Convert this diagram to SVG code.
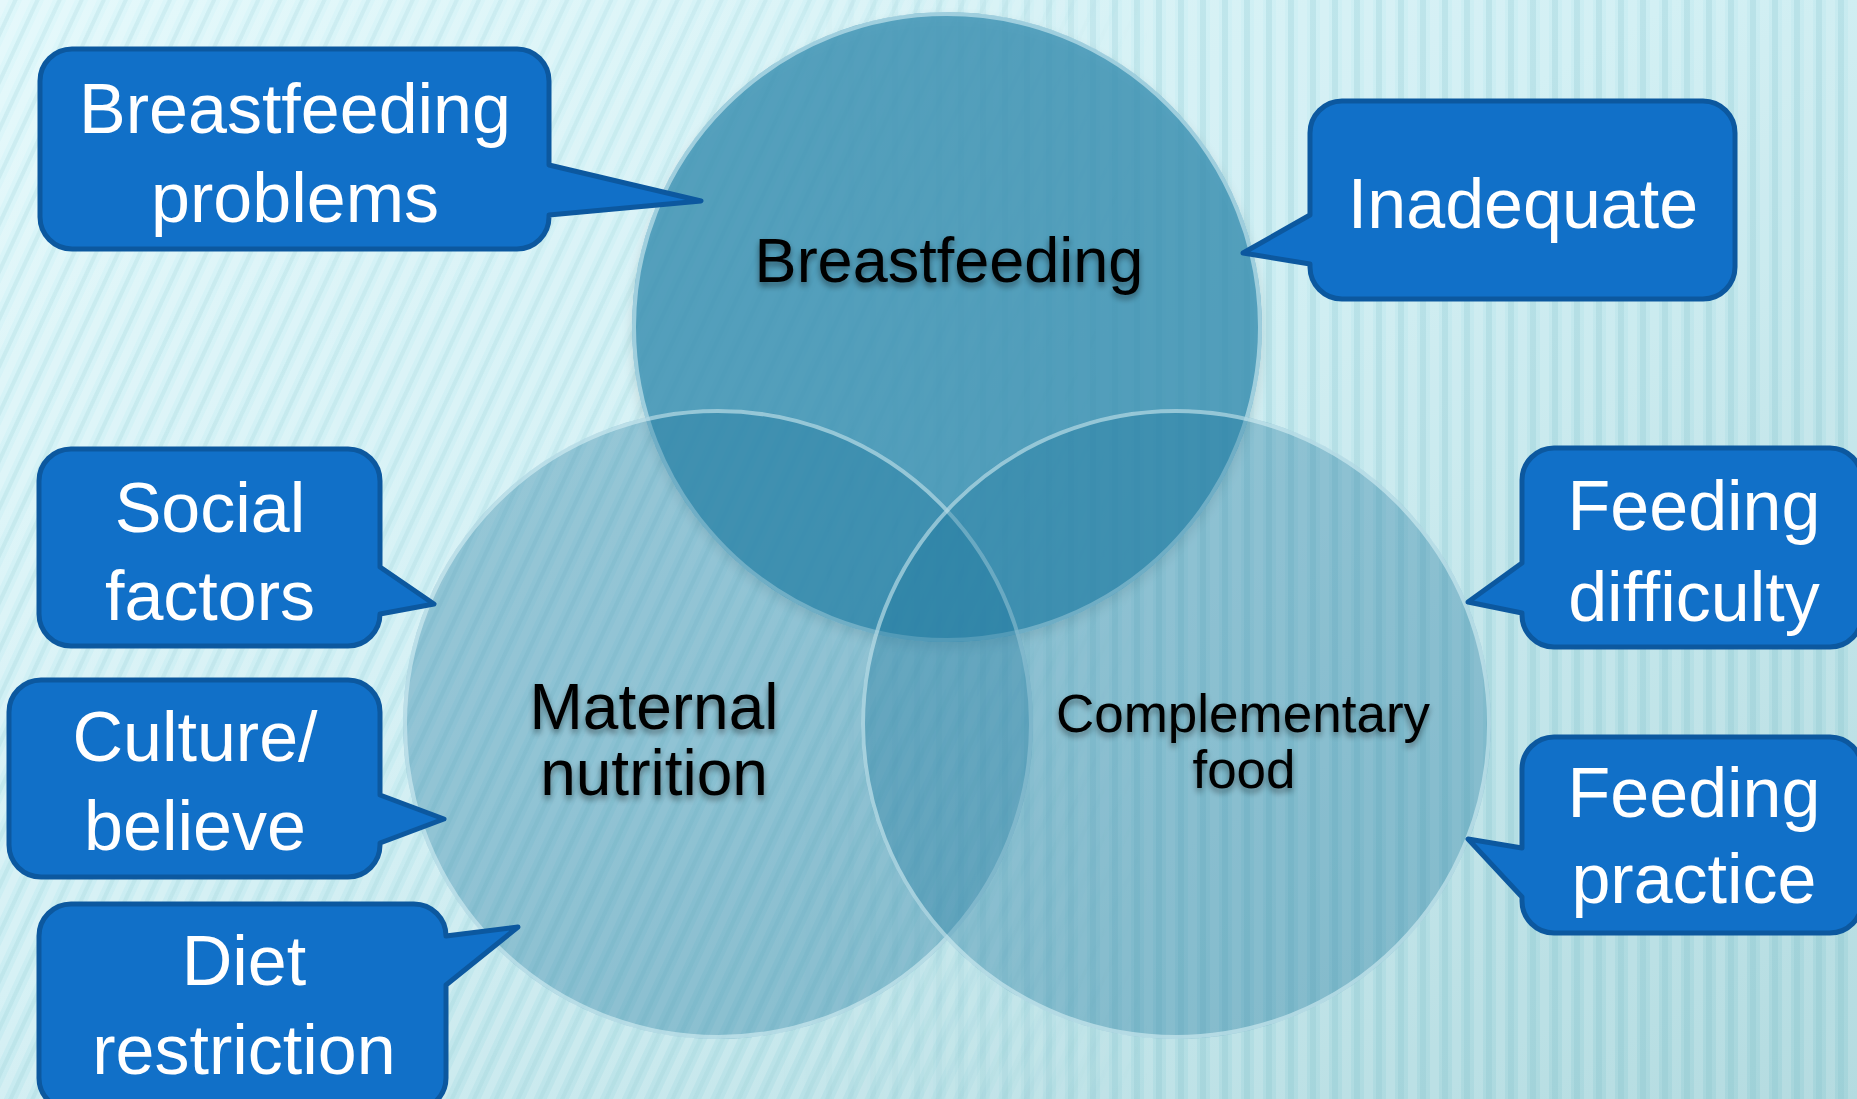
<svg xmlns="http://www.w3.org/2000/svg" width="1857" height="1099" viewBox="0 0 1857 1099">
<defs>
  <style>
    .callout { fill: #1170C8; stroke: #0C589F; stroke-width: 5; stroke-linejoin: round; }
    .ctext { font-family: "Liberation Sans", Arial, sans-serif; font-size: 70px; fill: #FFFFFF; text-anchor: middle; }
    .vtext { font-family: "Liberation Sans", Arial, sans-serif; fill: #000000; text-anchor: middle; filter: url(#tshadow); }
    .rim { fill: none; stroke: #DDF4F8; stroke-opacity: 0.55; stroke-width: 4; }
  </style>
  <linearGradient id="bg" x1="0" y1="0" x2="1" y2="1">
    <stop offset="0" stop-color="#DEF7FA"/>
    <stop offset="0.45" stop-color="#CBEDF2"/>
    <stop offset="1" stop-color="#A6D5DB"/>
  </linearGradient>
  <pattern id="diag" patternUnits="userSpaceOnUse" width="20" height="20" patternTransform="rotate(25)">
    <rect x="0" y="0" width="8" height="20" fill="#FFFFFF" opacity="0.22"/>
    <rect x="12" y="0" width="4" height="20" fill="#8CC7D0" opacity="0.18"/>
  </pattern>
  <pattern id="vert" patternUnits="userSpaceOnUse" width="22" height="22">
    <rect x="0" y="0" width="9" height="22" fill="#FFFFFF" opacity="0.16"/>
    <rect x="12" y="0" width="6" height="22" fill="#7DBCC6" opacity="0.2"/>
  </pattern>
  <linearGradient id="gL" x1="0" y1="0" x2="1" y2="0">
    <stop offset="0" stop-color="#FFFFFF" stop-opacity="1"/>
    <stop offset="0.45" stop-color="#FFFFFF" stop-opacity="0.8"/>
    <stop offset="0.62" stop-color="#FFFFFF" stop-opacity="0"/>
  </linearGradient>
  <linearGradient id="gR" x1="0" y1="0" x2="1" y2="0">
    <stop offset="0.42" stop-color="#FFFFFF" stop-opacity="0"/>
    <stop offset="0.62" stop-color="#FFFFFF" stop-opacity="1"/>
  </linearGradient>
  <mask id="maskL"><rect width="1857" height="1099" fill="url(#gL)"/></mask>
  <mask id="maskR"><rect width="1857" height="1099" fill="url(#gR)"/></mask>
  <filter id="tshadow" x="-10%" y="-30%" width="120%" height="170%">
    <feGaussianBlur in="SourceAlpha" stdDeviation="3"/>
    <feOffset dx="0" dy="4" result="b"/>
    <feComponentTransfer><feFuncA type="linear" slope="0.45"/></feComponentTransfer>
    <feMerge><feMergeNode/><feMergeNode in="SourceGraphic"/></feMerge>
  </filter>
  <filter id="cshadow" x="-10%" y="-10%" width="120%" height="125%">
    <feGaussianBlur in="SourceAlpha" stdDeviation="6"/>
    <feOffset dx="0" dy="6"/>
    <feComponentTransfer><feFuncA type="linear" slope="0.15"/></feComponentTransfer>
    <feMerge><feMergeNode/><feMergeNode in="SourceGraphic"/></feMerge>
  </filter>
</defs>

<!-- background -->
<rect width="1857" height="1099" fill="url(#bg)"/>
<rect width="1857" height="1099" fill="url(#diag)" mask="url(#maskL)"/>
<rect width="1857" height="1099" fill="url(#vert)" mask="url(#maskR)"/>

<!-- Venn circles -->
<g id="circle-breastfeeding">
  <circle cx="947" cy="327" r="315" fill="rgb(56,143,178)" fill-opacity="0.8" filter="url(#cshadow)"/>
  <circle class="rim" cx="947" cy="327" r="313"/>
</g>
<g id="circle-maternal">
  <circle cx="718" cy="724" r="315" fill="rgb(30,120,158)" fill-opacity="0.36"/>
  <circle class="rim" cx="718" cy="724" r="313"/>
</g>
<g id="circle-complementary">
  <circle cx="1176" cy="724" r="315" fill="rgb(30,120,158)" fill-opacity="0.36"/>
  <circle class="rim" cx="1176" cy="724" r="313"/>
</g>

<g id="label-breastfeeding">
  <text class="vtext" x="949" y="282" font-size="63">Breastfeeding</text>
</g>
<g id="label-maternal">
  <text class="vtext" font-size="64"><tspan x="654" y="729">Maternal</tspan><tspan x="654" y="795">nutrition</tspan></text>
</g>
<g id="label-complementary">
  <text class="vtext" font-size="53"><tspan x="1243" y="732">Complementary</tspan><tspan x="1244" y="788">food</tspan></text>
</g>

<!-- callouts -->
<g id="callout-breastfeeding-problems">
  <path class="callout" d="M72,49 H517 A32,32 0 0 1 549,81 V165 L701,201 L549,215 V217 A32,32 0 0 1 517,249 H72 A32,32 0 0 1 40,217 V81 A32,32 0 0 1 72,49 Z"/>
  <text class="ctext"><tspan x="295" y="133">Breastfeeding</tspan><tspan x="295" y="222">problems</tspan></text>
</g>
<g id="callout-inadequate">
  <path class="callout" d="M1342,101 H1703 A32,32 0 0 1 1735,133 V267 A32,32 0 0 1 1703,299 H1342 A32,32 0 0 1 1310,267 V264 L1243,253 L1310,215 V133 A32,32 0 0 1 1342,101 Z"/>
  <text class="ctext" x="1523" y="228">Inadequate</text>
</g>
<g id="callout-social-factors">
  <path class="callout" d="M71,449 H348 A32,32 0 0 1 380,481 V567 L434,604 L380,614 A32,32 0 0 1 348,646 H71 A32,32 0 0 1 39,614 V481 A32,32 0 0 1 71,449 Z"/>
  <text class="ctext"><tspan x="210" y="532">Social</tspan><tspan x="210" y="620">factors</tspan></text>
</g>
<g id="callout-culture-believe">
  <path class="callout" d="M41,680 H348 A32,32 0 0 1 380,712 V795 L444,819 L380,843 V845 A32,32 0 0 1 348,877 H41 A32,32 0 0 1 9,845 V712 A32,32 0 0 1 41,680 Z"/>
  <text class="ctext"><tspan x="195" y="761">Culture/</tspan><tspan x="195" y="850">believe</tspan></text>
</g>
<g id="callout-diet-restriction">
  <path class="callout" d="M71,904 H414 A32,32 0 0 1 446,936 L518,927 L446,985 V1078 A32,32 0 0 1 414,1110 H71 A32,32 0 0 1 39,1078 V936 A32,32 0 0 1 71,904 Z"/>
  <text class="ctext"><tspan x="244" y="985">Diet</tspan><tspan x="244" y="1074">restriction</tspan></text>
</g>
<g id="callout-feeding-difficulty">
  <path class="callout" d="M1554,448 H1830 A32,32 0 0 1 1862,480 V615 A32,32 0 0 1 1830,647 H1554 A32,32 0 0 1 1522,615 V613 L1468,602 L1522,563 V480 A32,32 0 0 1 1554,448 Z"/>
  <text class="ctext"><tspan x="1694" y="530">Feeding</tspan><tspan x="1694" y="621">difficulty</tspan></text>
</g>
<g id="callout-feeding-practice">
  <path class="callout" d="M1554,737 H1830 A32,32 0 0 1 1862,769 V901 A32,32 0 0 1 1830,933 H1554 A32,32 0 0 1 1522,901 V897 L1468,839 L1522,848 V769 A32,32 0 0 1 1554,737 Z"/>
  <text class="ctext"><tspan x="1694" y="817">Feeding</tspan><tspan x="1694" y="903">practice</tspan></text>
</g>
</svg>
